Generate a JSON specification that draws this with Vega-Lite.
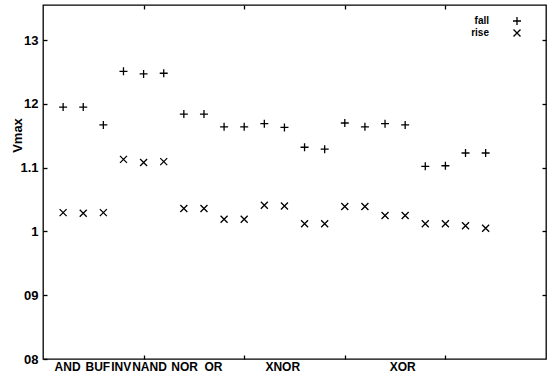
{
  "$schema": "https://vega.github.io/schema/vega-lite/v6.json",
  "width": 503,
  "height": 354,
  "autosize": {"type": "none"},
  "padding": {"left": 43, "top": 5, "right": 5, "bottom": 19},
  "background": "white",
  "config": {"view": {"stroke": "black", "strokeWidth": 1.3}, "font": "Liberation Sans"},
  "data": {"values": [
    {"x": 0.2, "series": "fall", "v": 1.195}, {"x": 0.2, "series": "rise", "v": 1.0295},
    {"x": 0.4, "series": "fall", "v": 1.195}, {"x": 0.4, "series": "rise", "v": 1.0285},
    {"x": 0.6, "series": "fall", "v": 1.167}, {"x": 0.6, "series": "rise", "v": 1.0295},
    {"x": 0.8, "series": "fall", "v": 1.251}, {"x": 0.8, "series": "rise", "v": 1.113},
    {"x": 1.0, "series": "fall", "v": 1.247}, {"x": 1.0, "series": "rise", "v": 1.108},
    {"x": 1.2, "series": "fall", "v": 1.248}, {"x": 1.2, "series": "rise", "v": 1.1095},
    {"x": 1.4, "series": "fall", "v": 1.184}, {"x": 1.4, "series": "rise", "v": 1.036},
    {"x": 1.6, "series": "fall", "v": 1.184}, {"x": 1.6, "series": "rise", "v": 1.036},
    {"x": 1.8, "series": "fall", "v": 1.164}, {"x": 1.8, "series": "rise", "v": 1.019},
    {"x": 2.0, "series": "fall", "v": 1.164}, {"x": 2.0, "series": "rise", "v": 1.019},
    {"x": 2.2, "series": "fall", "v": 1.169}, {"x": 2.2, "series": "rise", "v": 1.041},
    {"x": 2.4, "series": "fall", "v": 1.163}, {"x": 2.4, "series": "rise", "v": 1.040},
    {"x": 2.6, "series": "fall", "v": 1.132}, {"x": 2.6, "series": "rise", "v": 1.012},
    {"x": 2.8, "series": "fall", "v": 1.129}, {"x": 2.8, "series": "rise", "v": 1.012},
    {"x": 3.0, "series": "fall", "v": 1.170}, {"x": 3.0, "series": "rise", "v": 1.039},
    {"x": 3.2, "series": "fall", "v": 1.164}, {"x": 3.2, "series": "rise", "v": 1.039},
    {"x": 3.4, "series": "fall", "v": 1.169}, {"x": 3.4, "series": "rise", "v": 1.025},
    {"x": 3.6, "series": "fall", "v": 1.167}, {"x": 3.6, "series": "rise", "v": 1.025},
    {"x": 3.8, "series": "fall", "v": 1.102}, {"x": 3.8, "series": "rise", "v": 1.012},
    {"x": 4.0, "series": "fall", "v": 1.103}, {"x": 4.0, "series": "rise", "v": 1.012},
    {"x": 4.2, "series": "fall", "v": 1.123}, {"x": 4.2, "series": "rise", "v": 1.009},
    {"x": 4.4, "series": "fall", "v": 1.123}, {"x": 4.4, "series": "rise", "v": 1.005}
  ]},
  "layer": [
    {
      "mark": {"type": "point", "filled": false, "color": "black", "strokeWidth": 1.3, "opacity": 1},
      "encoding": {
        "x": {
          "field": "x", "type": "quantitative",
          "scale": {"domain": [0, 5], "nice": false, "zero": false},
          "axis": {
            "orient": "bottom",
            "values": [0.239, 0.54, 0.772, 1, 1.054, 1.403, 1.69, 2, 2.378, 3, 3.57, 4],
            "labelExpr": "datum.value == 0.239 ? 'AND' : datum.value == 0.54 ? 'BUF' : datum.value == 0.772 ? 'INV' : datum.value == 1.054 ? 'NAND' : datum.value == 1.403 ? 'NOR' : datum.value == 1.69 ? 'OR' : datum.value == 2.378 ? 'XNOR' : datum.value == 3.57 ? 'XOR' : ''",
            "tickSize": -4,
            "tickColor": "black",
            "tickWidth": 1.3,
            "tickOpacity": {"condition": {"test": "datum.value % 1 == 0", "value": 1}, "value": 0},
            "labelPadding": 6,
            "labelFont": "Liberation Sans",
            "labelFontSize": 12,
            "labelFontWeight": "bold",
            "labelColor": "black",
            "labelOverlap": false,
            "labelFlush": false,
            "labelBound": false,
            "domain": false,
            "grid": false,
            "title": null
          }
        },
        "y": {
          "field": "v", "type": "quantitative",
          "scale": {"domain": [0.8, 1.355], "nice": false, "zero": false},
          "axis": {
            "orient": "left",
            "values": [0.8, 0.9, 1, 1.1, 1.2, 1.3],
            "labelExpr": "datum.value == 0.8 ? '08' : datum.value == 0.9 ? '09' : datum.value == 1 ? '1' : datum.value == 1.1 ? '1.1' : datum.value == 1.2 ? '12' : '13'",
            "tickSize": -4,
            "tickColor": "black",
            "tickWidth": 1.3,
            "labelPadding": 9,
            "labelFont": "Liberation Sans",
            "labelFontSize": 13,
            "labelFontWeight": "bold",
            "labelColor": "black",
            "labelOverlap": false,
            "labelFlush": false,
            "labelBound": false,
            "domain": false,
            "grid": false,
            "title": "Vmax",
            "titleFont": "Liberation Sans",
            "titleFontSize": 13,
            "titleFontWeight": "bold",
            "titleColor": "black",
            "titleAngle": 270,
            "titleAlign": "center",
            "titleBaseline": "middle",
            "titleX": -26,
            "titleY": 130
          }
        },
        "shape": {
          "field": "series", "type": "nominal",
          "scale": {"domain": ["fall", "rise"], "range": ["M-1,0L1,0M0,-1L0,1", "M-1,-1L1,1M-1,1L1,-1"]},
          "legend": {
            "title": null, "orient": "none", "legendX": 469, "legendY": 11,
            "labelAlign": "right", "labelOffset": -33,
            "labelFont": "Liberation Sans", "labelFontSize": 10, "labelFontWeight": "bold", "labelColor": "black",
            "symbolStrokeColor": "black", "symbolStrokeWidth": 1.3, "symbolFillColor": "transparent",
            "rowPadding": -3, "padding": 0
          }
        },
        "size": {
          "field": "series", "type": "nominal",
          "scale": {"domain": ["fall", "rise"], "range": [64, 49]},
          "legend": {
            "title": null, "orient": "none", "legendX": 469, "legendY": 11,
            "labelAlign": "right", "labelOffset": -33,
            "labelFont": "Liberation Sans", "labelFontSize": 10, "labelFontWeight": "bold", "labelColor": "black",
            "symbolStrokeColor": "black", "symbolStrokeWidth": 1.3, "symbolFillColor": "transparent",
            "rowPadding": -3, "padding": 0
          }
        }
      }
    },
    {
      "mark": {"type": "point", "opacity": 0},
      "encoding": {
        "x": {
          "field": "x", "type": "quantitative",
          "axis": {"orient": "top", "values": [1, 2, 3, 4], "labels": false, "tickSize": -4, "tickColor": "black", "tickWidth": 1.3, "domain": false, "grid": false, "title": null}
        },
        "y": {
          "field": "v", "type": "quantitative",
          "axis": {"orient": "right", "values": [0.9, 1, 1.1, 1.2, 1.3], "labels": false, "tickSize": -4, "tickColor": "black", "tickWidth": 1.3, "domain": false, "grid": false, "title": null}
        }
      }
    }
  ],
  "resolve": {"axis": {"x": "independent", "y": "independent"}}
}
